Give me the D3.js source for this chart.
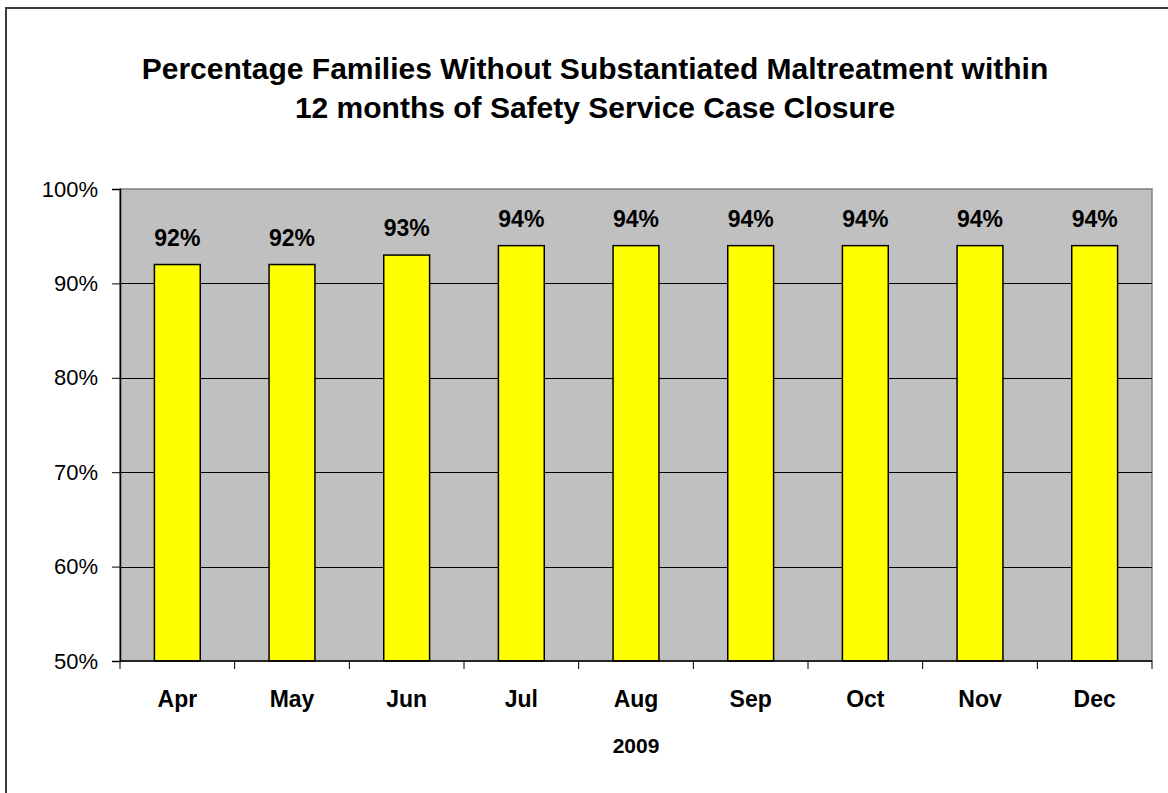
<!DOCTYPE html>
<html>
<head>
<meta charset="utf-8">
<script src="https://cdn.jsdelivr.net/npm/d3@7"></script>
<style>
  body { margin: 0; background: #fff; }
  svg { display: block; font-family: "Liberation Sans", Arial, sans-serif; }
</style>
</head>
<body>
<script>
var months = ["Apr", "May", "Jun", "Jul", "Aug", "Sep", "Oct", "Nov", "Dec"];
var values = [0.92, 0.92, 0.93, 0.94, 0.94, 0.94, 0.94, 0.94, 0.94];
var yTicks = [0.5, 0.6, 0.7, 0.8, 0.9, 1.0];
var titleLines = ["Percentage Families Without Substantiated Maltreatment within",
                  "12 months of Safety Service Case Closure"];
var xTitle = "2009";

function init(){
    var w = 1168;
    var h = 793;
    var left = 120, right = 1152, top = 189, bottom = 661;

    var svg = d3.select("body")
                .append("svg")
                .attr("width", w)
                .attr("height", h);

    // outer chart frame (runs off right and bottom edge)
    svg.append("rect")
       .attr("x", 6).attr("y", 8)
       .attr("width", 1170).attr("height", 800)
       .attr("fill", "#fff")
       .attr("stroke", "#3a3a3a")
       .attr("stroke-width", 2);

    var x = d3.scaleBand()
              .domain(months)
              .range([left, right])
              .paddingInner(0.6)
              .paddingOuter(0.3);

    var xb = d3.scaleBand().domain(months).range([left, right]);

    var y = d3.scaleLinear()
              .domain([0.5, 1.0])
              .range([bottom, top]);

    // plot area
    svg.append("rect")
       .attr("x", left).attr("y", top)
       .attr("width", right - left).attr("height", bottom - top)
       .attr("fill", "#c0c0c0")
       .attr("stroke", "#808080")
       .attr("stroke-width", 1.5);

    // gridlines
    svg.append("g")
       .selectAll("line")
       .data(yTicks.slice(1, -1))
       .enter()
       .append("line")
       .attr("x1", left).attr("x2", right)
       .attr("y1", function(d) { return Math.round(y(d)) + 0.5; })
       .attr("y2", function(d) { return Math.round(y(d)) + 0.5; })
       .attr("stroke", "#000")
       .attr("stroke-width", 1);

    // bars
    svg.append("g")
       .selectAll("rect")
       .data(values)
       .enter()
       .append("rect")
       .attr("x", function(d, i) { return x(months[i]); })
       .attr("y", function(d) { return y(d); })
       .attr("width", x.bandwidth())
       .attr("height", function(d) { return y(0.5) - y(d); })
       .attr("fill", "#ffff00")
       .attr("stroke", "#000")
       .attr("stroke-width", 1.5);

    // value labels
    svg.append("g")
       .selectAll("text")
       .data(values)
       .enter()
       .append("text")
       .attr("x", function(d, i) { return x(months[i]) + x.bandwidth() / 2; })
       .attr("y", function(d) { return y(d) - 19; })
       .attr("text-anchor", "middle")
       .attr("font-size", 23)
       .attr("font-weight", "bold")
       .text(function(d) { return Math.round(d * 100) + "%"; });

    // y axis
    var yAxis = d3.axisLeft(y)
                  .tickValues(yTicks)
                  .tickFormat(d3.format(".0%"))
                  .tickSize(8)
                  .tickPadding(14);
    var gy = svg.append("g")
                .attr("transform", "translate(" + left + ",0)")
                .call(yAxis);
    gy.select(".domain").attr("stroke", "#000").attr("stroke-width", 1.5);
    gy.selectAll(".tick line").attr("stroke", "#000");
    gy.selectAll("text").attr("font-size", 22).attr("font-family", "Liberation Sans, Arial, sans-serif").attr("fill", "#000");

    // x axis, ticks between categories
    var gx = svg.append("g")
                .attr("transform", "translate(0," + bottom + ")");
    gx.append("line")
      .attr("x1", left).attr("x2", right)
      .attr("y1", 0).attr("y2", 0)
      .attr("stroke", "#000").attr("stroke-width", 1.5);
    gx.selectAll(".tk")
      .data(months.concat(["end"]))
      .enter()
      .append("line")
      .attr("class", "tk")
      .attr("x1", function(d, i) { return i < months.length ? xb(d) : right; })
      .attr("x2", function(d, i) { return i < months.length ? xb(d) : right; })
      .attr("y1", 0).attr("y2", 8)
      .attr("stroke", "#000").attr("stroke-width", 1);
    gx.selectAll("text")
      .data(months)
      .enter()
      .append("text")
      .attr("x", function(d) { return xb(d) + xb.bandwidth() / 2; })
      .attr("y", 46)
      .attr("text-anchor", "middle")
      .attr("font-size", 23)
      .attr("font-weight", "bold")
      .text(function(d) { return d; });

    svg.append("text")
       .attr("x", (left + right) / 2)
       .attr("y", 753)
       .attr("text-anchor", "middle")
       .attr("font-size", 21)
       .attr("font-weight", "bold")
       .text(xTitle);

    // title
    svg.append("g")
       .selectAll("text")
       .data(titleLines)
       .enter()
       .append("text")
       .attr("x", 595)
       .attr("y", function(d, i) { return 79 + i * 39; })
       .attr("text-anchor", "middle")
       .attr("font-size", 30)
       .attr("font-weight", "bold")
       .text(function(d) { return d; });
}
window.onload = init;
</script>
</body>
</html>
